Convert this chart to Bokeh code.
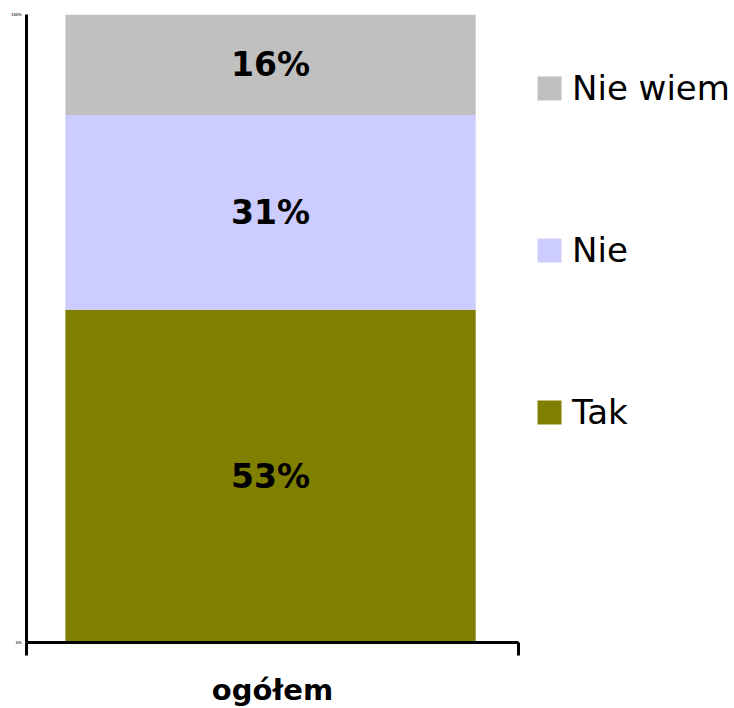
from bokeh.plotting import figure
from bokeh.models import Range1d, FixedTicker, Legend, LegendItem, ColumnDataSource
from bokeh.embed import file_html
from bokeh.resources import INLINE
from bokeh.core.properties import value

categories = ["ogółem"]
series_names = ["Tak", "Nie", "Nie wiem"]
series_values = [53, 31, 16]
colors = ["#808000", "#CCCCFF", "#C0C0C0"]
y_tick_values = [0, 100]
y_tick_labels = ["0%", "100%"]

p = figure(frame_width=492, frame_height=628, output_backend="svg", toolbar_location=None,
           x_range=Range1d(0, 1), y_range=Range1d(0, 100),
           min_border_left=26, min_border_top=14, min_border_bottom=66, min_border_right=216)
p.outline_line_color = None
p.grid.visible = False
p.background_fill_color = "white"

bottoms = []
acc = 0
for v in series_values:
    bottoms.append(acc)
    acc += v

renderers = []
for name, v, b, c in zip(series_names, series_values, bottoms, colors):
    src = ColumnDataSource(dict(x=[0.496], top=[b + v], bottom=[b], mid=[b + v / 2],
                                label=[f"{v}%"]))
    r = p.vbar(x="x", top="top", bottom="bottom", width=0.834, source=src,
               fill_color=c, line_color=None)
    renderers.append((name, r))
    p.text(x="x", y="mid", text="label", source=src, text_align="center",
           text_baseline="middle", text_font=value("DejaVu Sans"),
           text_font_style="bold", text_font_size="33px", text_color="black")

# y axis
ya = p.yaxis[0]
ya.ticker = FixedTicker(ticks=y_tick_values)
ya.major_label_overrides = {t: l for t, l in zip(y_tick_values, y_tick_labels)}
ya.major_label_text_font_size = "4px"
ya.major_label_text_font_style = "bold"
ya.major_tick_out = 0
ya.major_tick_in = 0
ya.minor_tick_out = 0
ya.minor_tick_in = 0
ya.axis_line_width = 3
ya.axis_line_color = "black"
ya.major_label_standoff = 5

# x axis
xa = p.xaxis[0]
xa.ticker = FixedTicker(ticks=[0, 1])
xa.major_label_overrides = {0: "", 1: ""}
xa.major_label_text_font_size = "1px"
xa.major_tick_out = 13
xa.major_tick_in = 0
xa.major_tick_line_width = 3
xa.minor_tick_out = 0
xa.minor_tick_in = 0
xa.axis_line_width = 3
xa.axis_line_color = "black"
xa.axis_label = categories[0]
xa.axis_label_text_font = "DejaVu Sans"
xa.axis_label_text_font_style = "bold"
xa.axis_label_text_font_size = "29px"
xa.axis_label_text_color = "black"
xa.axis_label_standoff = 17

items = [LegendItem(label=name, renderers=[r]) for name, r in reversed(renderers)]
legend = Legend(items=items, location=(16, 210), orientation="vertical",
                glyph_width=30, glyph_height=30, label_text_font="DejaVu Sans",
                label_text_font_size="34px", label_text_color="black",
                label_standoff=8, spacing=122,
                border_line_color=None, background_fill_alpha=0,
                padding=0, margin=0, label_height=25)
p.add_layout(legend, "right")

open("out.html", "w").write(file_html(p, INLINE))
